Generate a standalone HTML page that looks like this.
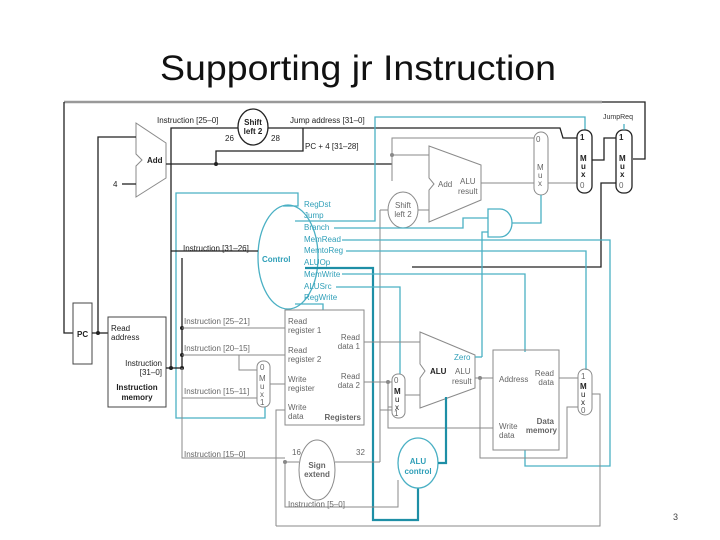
<!DOCTYPE html>
<html><head><meta charset="utf-8"><style>
body{margin:0;background:#fff;width:720px;height:540px;overflow:hidden}
svg{display:block}
text{font-family:"Liberation Sans",sans-serif}
.g{stroke:#8a8a8a;fill:none;stroke-width:1}
.k{stroke:#222;fill:none;stroke-width:1.3}
.b{stroke:#4ab0c4;fill:none;stroke-width:1.3}
.bd{stroke:#1e8fa6;fill:none;stroke-width:2.2}
.t{font-size:8px;fill:#666}
.tk{font-size:8px;fill:#222}
.tb{font-size:8px;fill:#2f9fb8}
.bold{font-weight:bold}
</style></head><body>
<svg width="720" height="540" viewBox="0 0 720 540">
<text x="358" y="80" font-size="35" text-anchor="middle" fill="#111" textLength="396" lengthAdjust="spacingAndGlyphs">Supporting jr Instruction</text>
<!-- frame -->
<path d="M64 102 H602" stroke="#999" stroke-width="2.5" fill="none"/>
<path d="M602 102 H645 V159 H633" class="k"/>
<path d="M64 102 V333 H73" class="k"/>
<text x="603" y="119" font-size="7" fill="#333">JumpReq</text>
<!-- PC+4 adder -->
<path d="M136 123 L166 143 L166 178 L136 197 L136 166 L142 160 L136 154 Z" class="g" stroke="#666"/>
<text x="147" y="163" class="tk bold">Add</text>
<text x="113" y="187" class="tk">4</text>
<path d="M122 184 H136" class="k"/>
<path d="M98 333 V137 H136" class="k"/>
<path d="M166 164 H392" class="k"/>
<circle cx="216" cy="164" r="2" fill="#222"/>
<path d="M216 164 V151 H303 V128" class="k"/>
<text x="305" y="149" class="tk">PC + 4 [31–28]</text>
<!-- shift left 2 top -->
<ellipse cx="253" cy="127" rx="15" ry="18" class="k" stroke-width="1"/>
<text x="253" y="125" class="tk bold" text-anchor="middle">Shift</text>
<text x="253" y="134" class="tk bold" text-anchor="middle">left 2</text>
<text x="157" y="123" class="tk">Instruction [25–0]</text>
<text x="225" y="141" class="tk">26</text>
<text x="271" y="141" class="tk">28</text>
<text x="290" y="123" class="tk">Jump address [31–0]</text>
<path d="M171 370 V128 H238" class="k"/>
<path d="M268 128 H560 L563 138 H577" class="k"/>
<!-- top blue jump -->
<path d="M295 221 H375 V117 H585 V130" class="b"/>
<!-- mux1 -->
<rect x="534" y="132" width="14" height="63" rx="7" class="g"/>
<text x="536" y="142" class="t">0</text><text x="537" y="170" class="t">M</text><text x="538" y="178" class="t">u</text><text x="538" y="186" class="t">x</text><text x="537" y="190" class="t"></text>
<path d="M392 181 V138 H534" class="g"/>
<path d="M392 155 H429" class="g"/><circle cx="392" cy="155" r="2" fill="#888"/>
<path d="M481 183 H534" class="g"/>
<path d="M548 183 H577" class="g"/>
<!-- mux2 -->
<rect x="577" y="130" width="15" height="63" rx="7" class="k"/>
<text x="580" y="140" class="tk bold">1</text><text x="580" y="161" class="tk bold">M</text><text x="581" y="169" class="tk bold">u</text><text x="581" y="177" class="tk bold">x</text><text x="580" y="188" class="t">0</text>
<path d="M592 160 H604 V138 H616" class="k"/>
<!-- mux3 -->
<rect x="616" y="130" width="16" height="63" rx="7" class="k"/>
<text x="619" y="140" class="tk bold">1</text><text x="619" y="161" class="tk bold">M</text><text x="620" y="169" class="tk bold">u</text><text x="620" y="177" class="tk bold">x</text><text x="619" y="188" class="t">0</text>
<path d="M624 124 V130" class="b" stroke-width="1"/>
<path d="M412 267 H601 V183 H616" class="k"/>
<!-- branch adder -->
<path d="M429 146 L481 165 L481 200 L429 222 L429 190 L434 184 L429 178 Z" class="g"/>
<text x="438" y="187" class="t">Add</text><text x="460" y="184" class="t">ALU</text><text x="458" y="194" class="t">result</text>
<ellipse cx="403" cy="210" rx="15" ry="18" class="g"/>
<text x="403" y="208" class="t" text-anchor="middle">Shift</text><text x="403" y="217" class="t" text-anchor="middle">left 2</text>
<path d="M380 210 V462" class="g"/><path d="M380 210 H388 M418 210 H429" class="g"/>
<!-- AND -->
<path d="M488 209 H500 A12 14 0 0 1 500 237 H488 Z" class="b"/>
<path d="M512 223 H541 V195" class="b"/>
<path d="M334 228 H463 V218 H488" class="b"/>
<path d="M482 357 V232 H488" class="b"/>
<!-- control -->
<ellipse cx="288" cy="257" rx="30" ry="52" class="b" stroke-width="1"/>
<text x="262" y="262" font-size="8.5" class="tb bold">Control</text>
<g class="tb">
<text x="304" y="207">RegDst</text><text x="304" y="218">Jump</text><text x="304" y="230">Branch</text><text x="304" y="242">MemRead</text><text x="304" y="253">MemtoReg</text><text x="304" y="265">ALUOp</text><text x="304" y="277">MemWrite</text><text x="304" y="289">ALUSrc</text><text x="304" y="300">RegWrite</text>
</g>
<path d="M283 206 H298 V193 H176 V418 H265 V407" class="b"/>
<path d="M342 240 H610 V466 H525 V450" class="b"/>
<path d="M346 251 H586 V370" class="b"/>
<path d="M305 268 H373 V520 H418 V488" class="bd"/>
<path d="M342 274 H525 V352" class="b"/>
<path d="M336 287 H400 V374" class="b"/>
<path d="M295 304 H323 V310" class="b"/>
<path d="M171 251 H258" class="k"/>
<text x="183" y="251" class="tk">Instruction [31–26]</text>
<!-- PC, imem -->
<rect x="73" y="303" width="19" height="61" fill="none" stroke="#444"/>
<text x="77" y="337" class="tk bold">PC</text>
<path d="M92 333 H108" class="k"/><circle cx="98" cy="333" r="2" fill="#222"/>
<rect x="108" y="317" width="58" height="90" fill="none" stroke="#444"/>
<text x="111" y="331" class="tk">Read</text><text x="111" y="340" class="tk">address</text>
<text x="162" y="366" class="tk" text-anchor="end">Instruction</text><text x="162" y="375" class="tk" text-anchor="end">[31–0]</text>
<text x="137" y="390" class="tk bold" text-anchor="middle">Instruction</text><text x="137" y="400" class="tk bold" text-anchor="middle">memory</text>
<path d="M166 368 H182" class="k"/>
<circle cx="171" cy="368" r="2" fill="#222"/><circle cx="182" cy="368" r="2" fill="#222"/>
<path d="M182 258 V368" class="k"/><circle cx="182" cy="328" r="2" fill="#222"/><circle cx="182" cy="355" r="2" fill="#222"/>
<path d="M182 368 V458 H285" class="g"/>
<path d="M182 328 H285 M182 355 H285 M239 355 V370 H257 M182 398 H257 M270 384 H285" class="g"/>
<text x="184" y="324" class="t">Instruction [25–21]</text>
<text x="184" y="351" class="t">Instruction [20–15]</text>
<text x="184" y="394" class="t">Instruction [15–11]</text>
<text x="184" y="457" class="t">Instruction [15–0]</text>
<rect x="257" y="361" width="13" height="46" rx="6" class="g"/>
<text x="260" y="370" class="t">0</text><text x="259" y="381" class="t">M</text><text x="260" y="389" class="t">u</text><text x="260" y="397" class="t">x</text><text x="260" y="405" class="t">1</text>
<!-- registers -->
<rect x="285" y="310" width="79" height="115" class="g"/>
<g class="t"><text x="288" y="324">Read</text><text x="288" y="333">register 1</text><text x="288" y="353">Read</text><text x="288" y="362">register 2</text><text x="288" y="382">Write</text><text x="288" y="391">register</text><text x="288" y="410">Write</text><text x="288" y="419">data</text>
<text x="360" y="340" text-anchor="end">Read</text><text x="360" y="349" text-anchor="end">data 1</text><text x="360" y="379" text-anchor="end">Read</text><text x="360" y="388" text-anchor="end">data 2</text></g>
<text x="361" y="420" class="t bold" text-anchor="end">Registers</text>
<path d="M364 342 H420 M364 382 H392 M388 382 V428 H493 M392 407 H388" class="g"/>
<circle cx="388" cy="382" r="2" fill="#888"/>
<path d="M276 526 V410 H285" class="g"/>
<!-- sign extend -->
<ellipse cx="317" cy="470" rx="18" ry="30" class="g"/>
<text x="317" y="468" class="t bold" text-anchor="middle">Sign</text><text x="317" y="477" class="t bold" text-anchor="middle">extend</text>
<path d="M285 462 H299 M335 462 H380" class="g"/>
<text x="292" y="455" class="t">16</text><text x="356" y="455" class="t">32</text>
<path d="M285 462 V507 H398 V480" class="g"/><circle cx="285" cy="462" r="2" fill="#888"/>
<text x="288" y="507" class="t">Instruction [5–0]</text>
<path d="M380 410 H392" class="g"/>
<!-- ALU mux -->
<rect x="392" y="374" width="13" height="44" rx="6" class="g"/>
<text x="394" y="383" class="t">0</text><text x="394" y="394" class="tk bold">M</text><text x="395" y="402" class="tk">u</text><text x="395" y="410" class="tk">x</text><text x="394" y="416" class="t">1</text>
<path d="M405 395 H420" class="g"/>
<!-- ALU -->
<path d="M420 332 L475 355 L475 388 L420 408 L420 378 L425 371 L420 364 Z" class="g"/>
<text x="430" y="374" class="tk bold">ALU</text>
<text x="454" y="360" class="tb">Zero</text>
<text x="455" y="374" class="t">ALU</text><text x="452" y="384" class="t">result</text>
<path d="M475 357 H482" class="b"/>
<path d="M475 378 H493" class="g"/><circle cx="480" cy="378" r="2" fill="#888"/>
<path d="M480 378 V458 H567 V407 H578" class="g"/>
<!-- data memory -->
<rect x="493" y="350" width="66" height="100" class="g"/>
<g class="t"><text x="499" y="382">Address</text><text x="554" y="376" text-anchor="end">Read</text><text x="554" y="385" text-anchor="end">data</text><text x="499" y="429">Write</text><text x="499" y="438">data</text></g>
<text x="554" y="424" class="t bold" text-anchor="end">Data</text><text x="557" y="433" class="t bold" text-anchor="end">memory</text>
<path d="M559 378 H578" class="g"/>
<rect x="578" y="369" width="14" height="46" rx="7" class="g"/>
<text x="581" y="379" class="t">1</text><text x="580" y="389" class="tk bold">M</text><text x="581" y="397" class="tk">u</text><text x="581" y="405" class="tk">x</text><text x="581" y="413" class="t">0</text>
<path d="M592 394 H600 V526 H276" class="g"/>
<!-- ALU control -->
<ellipse cx="418" cy="463" rx="20" ry="25" class="b" stroke-width="1"/>
<text x="418" y="464" class="tb bold" text-anchor="middle">ALU</text><text x="418" y="474" class="tb bold" text-anchor="middle">control</text>
<path d="M438 463 H446 V397" class="bd"/>
<text x="673" y="520" font-size="9" fill="#444">3</text>
</svg>
</body></html>
